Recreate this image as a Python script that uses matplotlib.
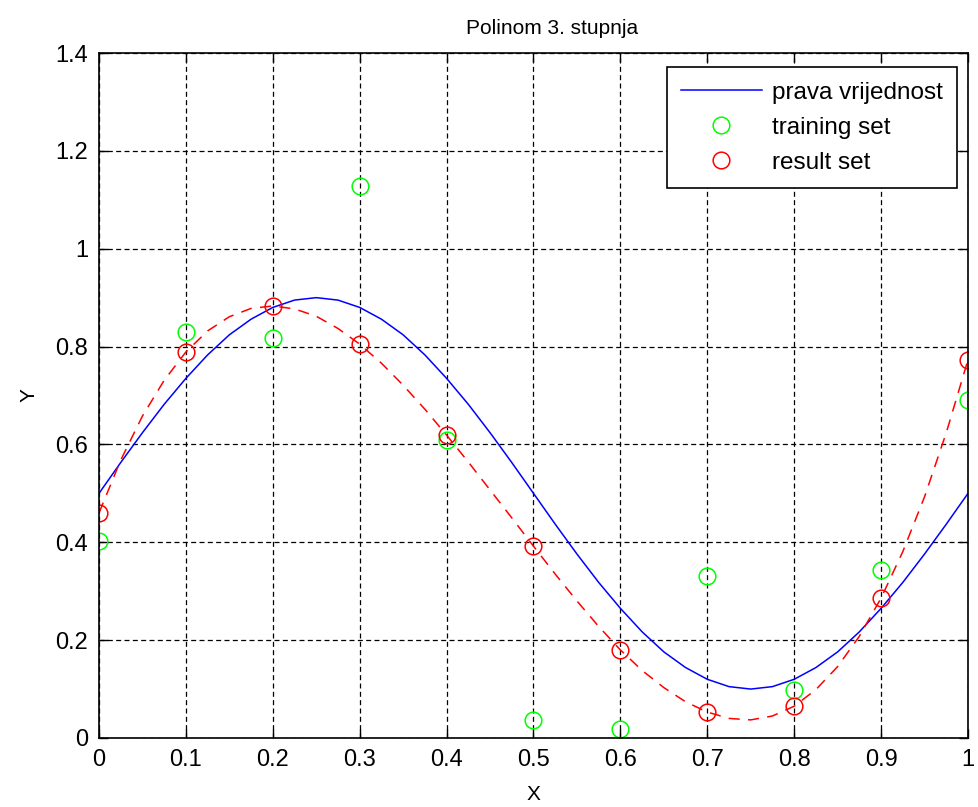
import matplotlib
matplotlib.use('Agg')
import matplotlib.pyplot as plt

plt.rcParams['font.family'] = ['Liberation Sans', 'DejaVu Sans']
plt.rcParams['lines.scale_dashes'] = False

# true curve
x_true = [0.0, 0.025, 0.05, 0.075, 0.1, 0.125, 0.15, 0.175, 0.2, 0.225, 0.25,
          0.275, 0.3, 0.325, 0.35, 0.375, 0.4, 0.425, 0.45, 0.475, 0.5,
          0.525, 0.55, 0.575, 0.6, 0.625, 0.65, 0.675, 0.7, 0.725, 0.75,
          0.775, 0.8, 0.825, 0.85, 0.875, 0.9, 0.925, 0.95, 0.975, 1.0]
y_true = [0.5, 0.563, 0.624, 0.682, 0.735, 0.783, 0.824, 0.856, 0.880, 0.895, 0.9,
          0.895, 0.880, 0.856, 0.824, 0.783, 0.735, 0.682, 0.624, 0.563, 0.5,
          0.437, 0.376, 0.318, 0.265, 0.217, 0.176, 0.144, 0.120, 0.105, 0.1,
          0.105, 0.120, 0.144, 0.176, 0.217, 0.265, 0.318, 0.376, 0.437, 0.5]

# fitted polynomial (red dashed)
x_fit = x_true
y_fit = [0.46, 0.568, 0.658, 0.731, 0.789, 0.832, 0.861, 0.878, 0.883, 0.877, 0.862,
         0.837, 0.805, 0.766, 0.721, 0.672, 0.619, 0.564, 0.507, 0.450, 0.392,
         0.335, 0.280, 0.228, 0.180, 0.138, 0.103, 0.074, 0.053, 0.040, 0.037,
         0.045, 0.065, 0.099, 0.146, 0.208, 0.286, 0.381, 0.493, 0.624, 0.773]

x_pts = [0.0, 0.1, 0.2, 0.3, 0.4, 0.5, 0.6, 0.7, 0.8, 0.9, 1.0]
y_train = [0.403, 0.830, 0.817, 1.128, 0.609, 0.037, 0.018, 0.331, 0.098, 0.343, 0.691]
y_result = [0.46, 0.789, 0.883, 0.805, 0.619, 0.392, 0.180, 0.053, 0.065, 0.286, 0.773]

xticks = [0, 0.1, 0.2, 0.3, 0.4, 0.5, 0.6, 0.7, 0.8, 0.9, 1]
xticklabels = ['0', '0.1', '0.2', '0.3', '0.4', '0.5', '0.6', '0.7', '0.8', '0.9', '1']
yticks = [0, 0.2, 0.4, 0.6, 0.8, 1, 1.2, 1.4]
yticklabels = ['0', '0.2', '0.4', '0.6', '0.8', '1', '1.2', '1.4']

fig = plt.figure(figsize=(9.79, 8.07), dpi=100)
ax = fig.add_axes([99 / 979, 69 / 807, 869 / 979, 685 / 807])

ax.plot(x_true, y_true, color='blue', lw=1.1, label='prava vrijednost')
ax.plot(x_pts, y_train, 'o', mfc='none', mec='#00ff00', ms=12, mew=1.1, label='training set')
ax.plot(x_pts, y_result, 'o', mfc='none', mec='red', ms=12, mew=1.1, label='result set')
ax.plot(x_fit, y_fit, color='red', lw=1.1, dashes=(8, 6))

ax.set_xlim(0, 1)
ax.set_ylim(0, 1.4)
ax.set_xticks(xticks)
ax.set_xticklabels(xticklabels)
ax.set_yticks(yticks)
ax.set_yticklabels(yticklabels)
ax.tick_params(direction='in', length=6.5, width=1, top=True, right=True,
               labelsize=17, pad=8)
ax.grid(True, color='black', lw=0.9, dashes=(3.6, 2.4))
for s in ax.spines.values():
    s.set_linewidth(1.2)

ax.set_title('Polinom 3. stupnja', fontsize=15, x=0.521, pad=14)
ax.set_xlabel('X', fontsize=15, labelpad=10)
ax.set_ylabel('Y', fontsize=15, labelpad=12)

leg = ax.legend(loc='upper right', bbox_to_anchor=(0.9873, 0.9796), borderaxespad=0,
                fontsize=17.5, fancybox=False, framealpha=1, edgecolor='black',
                handlelength=3.3, labelspacing=0.54, handletextpad=0.41, borderpad=0.6)
leg.get_frame().set_linewidth(1.2)

fig.savefig('out.png', dpi=100)
